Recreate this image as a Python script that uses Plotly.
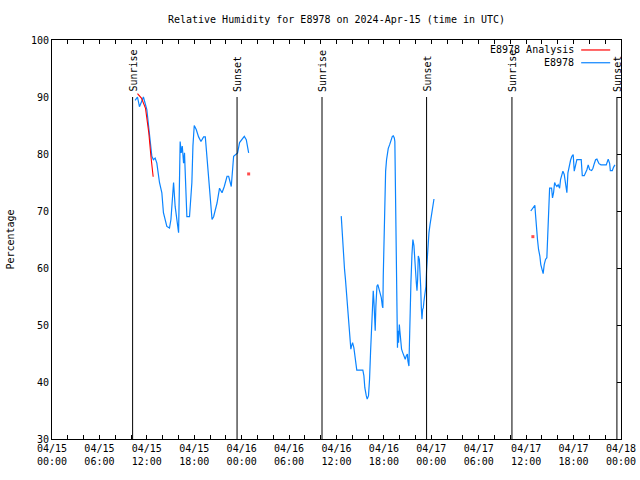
import plotly.graph_objects as go

# ---------------- data ----------------
c1_time = ["2024-04-15 10:31", "2024-04-15 10:49", "2024-04-15 11:04", "2024-04-15 11:34", "2024-04-15 12:00",
           "2024-04-15 12:12", "2024-04-15 12:25", "2024-04-15 12:38", "2024-04-15 12:50", "2024-04-15 13:03",
           "2024-04-15 13:16", "2024-04-15 13:36", "2024-04-15 13:54", "2024-04-15 14:06", "2024-04-15 14:32",
           "2024-04-15 14:52", "2024-04-15 15:03", "2024-04-15 15:15", "2024-04-15 15:23", "2024-04-15 15:35",
           "2024-04-15 15:48", "2024-04-15 16:01", "2024-04-15 16:13", "2024-04-15 16:21", "2024-04-15 16:29",
           "2024-04-15 16:39", "2024-04-15 16:46", "2024-04-15 17:04", "2024-04-15 17:24", "2024-04-15 17:42",
           "2024-04-15 17:50", "2024-04-15 18:00", "2024-04-15 18:15", "2024-04-15 18:33", "2024-04-15 18:51",
           "2024-04-15 19:11", "2024-04-15 19:24", "2024-04-15 19:41", "2024-04-15 19:56", "2024-04-15 20:15",
           "2024-04-15 20:27", "2024-04-15 20:53", "2024-04-15 21:12", "2024-04-15 21:31", "2024-04-15 21:48",
           "2024-04-15 22:09", "2024-04-15 22:21", "2024-04-15 22:41", "2024-04-15 22:59", "2024-04-15 23:12",
           "2024-04-15 23:29", "2024-04-15 23:44", "2024-04-16 00:03", "2024-04-16 00:20", "2024-04-16 00:35",
           "2024-04-16 00:53"]
c1_rh = [89.4, 90.0, 88.3, 90.0, 87.8, 85.5, 82.5, 79.6, 79.0, 79.3,
         78.4, 75.0, 73.2, 69.7, 67.3, 67.0, 68.5, 73.5, 75.0, 70.8,
         68.2, 66.2, 82.2, 80.2, 81.4, 78.4, 80.2, 69.0, 69.0, 75.0,
         81.4, 85.0, 84.3, 83.0, 82.2, 83.0, 83.0, 77.8, 72.6, 68.5,
         69.0, 71.4, 74.0, 73.2, 74.3, 76.1, 76.1, 74.3, 79.6, 79.9,
         80.2, 82.0, 82.7, 83.1, 82.5, 80.2]

c2_time = ["2024-04-16 12:36", "2024-04-16 12:40", "2024-04-16 12:48", "2024-04-16 12:56", "2024-04-16 13:01",
           "2024-04-16 13:08", "2024-04-16 13:16", "2024-04-16 13:26", "2024-04-16 13:34", "2024-04-16 13:41",
           "2024-04-16 13:49", "2024-04-16 13:54", "2024-04-16 14:02", "2024-04-16 14:12", "2024-04-16 14:19",
           "2024-04-16 14:27", "2024-04-16 14:34", "2024-04-16 14:57", "2024-04-16 15:20", "2024-04-16 15:28",
           "2024-04-16 15:35", "2024-04-16 15:46", "2024-04-16 15:53", "2024-04-16 16:03", "2024-04-16 16:11",
           "2024-04-16 16:19", "2024-04-16 16:26", "2024-04-16 16:34", "2024-04-16 16:39", "2024-04-16 16:44",
           "2024-04-16 16:49", "2024-04-16 16:54", "2024-04-16 16:59", "2024-04-16 17:07", "2024-04-16 17:14",
           "2024-04-16 17:22", "2024-04-16 17:29", "2024-04-16 17:40", "2024-04-16 17:48", "2024-04-16 17:52",
           "2024-04-16 17:55", "2024-04-16 18:03", "2024-04-16 18:07", "2024-04-16 18:13", "2024-04-16 18:20",
           "2024-04-16 18:26", "2024-04-16 18:33", "2024-04-16 18:43", "2024-04-16 18:51", "2024-04-16 19:04",
           "2024-04-16 19:11", "2024-04-16 19:19", "2024-04-16 19:23", "2024-04-16 19:29", "2024-04-16 19:38",
           "2024-04-16 19:43", "2024-04-16 19:46", "2024-04-16 19:51", "2024-04-16 19:57", "2024-04-16 20:01",
           "2024-04-16 20:07", "2024-04-16 20:14", "2024-04-16 20:22", "2024-04-16 20:32", "2024-04-16 20:42",
           "2024-04-16 20:50", "2024-04-16 20:58", "2024-04-16 21:02", "2024-04-16 21:10", "2024-04-16 21:13",
           "2024-04-16 21:17", "2024-04-16 21:25", "2024-04-16 21:33", "2024-04-16 21:40", "2024-04-16 21:48",
           "2024-04-16 21:53", "2024-04-16 22:01", "2024-04-16 22:06", "2024-04-16 22:11", "2024-04-16 22:16",
           "2024-04-16 22:21", "2024-04-16 22:29", "2024-04-16 22:34", "2024-04-16 22:39", "2024-04-16 22:44",
           "2024-04-16 22:49", "2024-04-16 22:54", "2024-04-16 22:59", "2024-04-16 23:04", "2024-04-16 23:12",
           "2024-04-16 23:19", "2024-04-16 23:24", "2024-04-16 23:30", "2024-04-16 23:34", "2024-04-16 23:42",
           "2024-04-16 23:50", "2024-04-16 23:57", "2024-04-17 00:05", "2024-04-17 00:12", "2024-04-17 00:20"]
c2_rh = [69.1, 67.3, 63.9, 61.5, 59.75, 58.0, 55.4, 52.5, 49.5, 47.0,
         45.75, 46.3, 46.9, 46.0, 44.6, 43.4, 42.1, 42.1, 42.1, 41.1,
         39.0, 37.6, 37.0, 37.6, 40.5, 45.5, 49.8, 53.9, 56.0, 54.2,
         51.0, 49.0, 53.3, 56.8, 57.1, 56.25, 55.7, 54.8, 53.3, 53.0,
         58.6, 70.25, 75.5, 77.0, 79.0, 80.2, 81.0, 81.6, 82.2, 83.1,
         83.2, 82.8, 82.2, 73.2, 55.1, 46.0, 49.0, 46.9, 50.1, 49.0,
         46.9, 45.75, 45.2, 44.6, 44.0, 44.6, 44.9, 43.7, 42.8, 46.0,
         51.9, 57.4, 62.4, 65.0, 63.9, 61.2, 59.2, 57.4, 56.0, 58.0,
         62.1, 61.5, 59.75, 56.8, 53.0, 51.0, 52.75, 53.0, 54.2, 55.4,
         56.8, 59.75, 62.1, 63.9, 66.2, 67.6, 68.8, 70.25, 71.4, 72.1]

c3_time = ["2024-04-17 12:35", "2024-04-17 12:53", "2024-04-17 13:06", "2024-04-17 13:11", "2024-04-17 13:19",
           "2024-04-17 13:26", "2024-04-17 13:34", "2024-04-17 13:44", "2024-04-17 13:51", "2024-04-17 14:01",
           "2024-04-17 14:09", "2024-04-17 14:17", "2024-04-17 14:27", "2024-04-17 14:37", "2024-04-17 14:42",
           "2024-04-17 14:50", "2024-04-17 14:58", "2024-04-17 15:13", "2024-04-17 15:20", "2024-04-17 15:28",
           "2024-04-17 15:36", "2024-04-17 15:43", "2024-04-17 15:53", "2024-04-17 16:03", "2024-04-17 16:14",
           "2024-04-17 16:21", "2024-04-17 16:29", "2024-04-17 16:39", "2024-04-17 16:49", "2024-04-17 16:59",
           "2024-04-17 17:09", "2024-04-17 17:17", "2024-04-17 17:27", "2024-04-17 17:37", "2024-04-17 17:47",
           "2024-04-17 17:57", "2024-04-17 18:05", "2024-04-17 18:15", "2024-04-17 18:25", "2024-04-17 18:58",
           "2024-04-17 19:06", "2024-04-17 19:21", "2024-04-17 19:31", "2024-04-17 19:41", "2024-04-17 19:51",
           "2024-04-17 20:02", "2024-04-17 20:17", "2024-04-17 20:27", "2024-04-17 20:37", "2024-04-17 20:47",
           "2024-04-17 20:57", "2024-04-17 21:13", "2024-04-17 21:28", "2024-04-17 22:08", "2024-04-17 22:23",
           "2024-04-17 22:34", "2024-04-17 22:39", "2024-04-17 22:54", "2024-04-17 23:04", "2024-04-17 23:14"]
c3_rh = [70.0, 70.5, 71.0, 69.4, 66.5, 65.0, 63.25, 62.1, 60.6, 59.75,
         59.0, 60.6, 61.5, 61.8, 65.0, 70.8, 74.0, 74.0, 72.3, 73.2,
         75.0, 74.6, 74.3, 74.6, 74.0, 75.5, 76.4, 77.0, 76.4, 75.0,
         73.2, 76.7, 78.1, 78.9, 79.6, 79.9, 77.0, 78.1, 79.0, 79.0,
         76.2, 76.2, 76.7, 77.25, 78.1, 77.25, 77.1, 77.5, 78.3, 79.0,
         79.1, 78.3, 78.1, 78.1, 79.1, 78.3, 77.1, 77.1, 77.7, 78.1]

analysis_time = ["2024-04-15 10:49", "2024-04-15 11:19", "2024-04-15 11:50", "2024-04-15 12:15",
                 "2024-04-15 12:31", "2024-04-15 12:48", None, "2024-04-16 00:53", None, "2024-04-17 12:51"]
analysis_rh = [90.6, 89.8, 88.0, 83.7, 79.6, 76.0, None, 76.5, None, 65.5]

sun_time = ["2024-04-15 10:12", "2024-04-15 23:25", "2024-04-16 10:10",
            "2024-04-16 23:24", "2024-04-17 10:12", "2024-04-17 23:29"]
sun_label = ["Sunrise", "Sunset", "Sunrise", "Sunset", "Sunrise", "Sunset"]

x_ticks = ["2024-04-15 00:00", "2024-04-15 06:00", "2024-04-15 12:00", "2024-04-15 18:00",
           "2024-04-16 00:00", "2024-04-16 06:00", "2024-04-16 12:00", "2024-04-16 18:00",
           "2024-04-17 00:00", "2024-04-17 06:00", "2024-04-17 12:00", "2024-04-17 18:00",
           "2024-04-18 00:00"]
x_tick_text = ["04/15<br>00:00", "04/15<br>06:00", "04/15<br>12:00", "04/15<br>18:00",
               "04/16<br>00:00", "04/16<br>06:00", "04/16<br>12:00", "04/16<br>18:00",
               "04/17<br>00:00", "04/17<br>06:00", "04/17<br>12:00", "04/17<br>18:00",
               "04/18<br>00:00"]
y_ticks = [30, 40, 50, 60, 70, 80, 90, 100]

FONT = "DejaVu Sans Mono"
BLUE = "#0a84ff"
RED = "#ff0000"

blue_time = c1_time + [None] + c2_time + [None] + c3_time
blue_rh = c1_rh + [None] + c2_rh + [None] + c3_rh

# points with no neighbour are drawn as dots (like gnuplot does for isolated points)
def isolated(vals, i):
    prev_ok = i > 0 and vals[i - 1] is not None
    next_ok = i < len(vals) - 1 and vals[i + 1] is not None
    return vals[i] is not None and not prev_ok and not next_ok

analysis_marker_size = [3 if isolated(analysis_rh, i) else 0 for i in range(len(analysis_rh))]

fig = go.Figure()
fig.add_trace(go.Scatter(x=blue_time, y=blue_rh, mode="lines", name="E8978",
                         line=dict(color=BLUE, width=1.2), connectgaps=False, showlegend=False))
fig.add_trace(go.Scatter(x=analysis_time, y=analysis_rh, mode="lines+markers", name="E8978 Analysis",
                         line=dict(color=RED, width=1.1),
                         marker=dict(size=analysis_marker_size, symbol="square", color=RED, line=dict(width=0)),
                         connectgaps=False, showlegend=False))
# dummy trace on the right axis so it renders ticks
fig.add_trace(go.Scatter(x=[x_ticks[0]], y=[None], yaxis="y2", showlegend=False, hoverinfo="skip"))

for t, lab in zip(sun_time, sun_label):
    fig.add_shape(type="line", xref="x", yref="y", x0=t, x1=t, y0=30, y1=90,
                  line=dict(color="black", width=1))
    fig.add_annotation(x=t, y=90, xref="x", yref="y", text=lab, textangle=-90,
                       showarrow=False, xanchor="center", yanchor="bottom", yshift=3,
                       font=dict(family=FONT, size=10, color="black"))

# gnuplot-style key
key_rows = [("E8978 Analysis", RED, 0.975), ("E8978", BLUE, 0.943)]
for txt, col, yy in key_rows:
    fig.add_annotation(x=0.921, y=yy, xref="paper", yref="paper", text=txt, showarrow=False,
                       xanchor="right", yanchor="middle", font=dict(family=FONT, size=10, color="black"))
    fig.add_shape(type="line", xref="paper", yref="paper", x0=0.930, x1=0.981, y0=yy, y1=yy,
                  line=dict(color=col, width=1.2))

fig.update_layout(
    width=640, height=480,
    margin=dict(l=52, r=19, t=40, b=41, autoexpand=False),
    paper_bgcolor="white", plot_bgcolor="white",
    title=dict(text="Relative Humidity for E8978 on 2024-Apr-15 (time in UTC)", x=0.5, xanchor="center",
               xref="paper", y=0.96, yanchor="middle", font=dict(family=FONT, size=10, color="black")),
    font=dict(family=FONT, size=10, color="black"),
    xaxis=dict(type="date", range=["2024-04-15 00:00", "2024-04-18 00:00"],
               tickmode="array", tickvals=x_ticks, ticktext=x_tick_text,
               ticks="inside", ticklen=4, tickcolor="black", tickwidth=1,
               minor=dict(dtick=2 * 3600 * 1000, tick0="2024-04-15 00:00", ticks="inside",
                          ticklen=4, tickcolor="black", showgrid=False),
               showgrid=False, zeroline=False, showline=True, linecolor="black", linewidth=1,
               mirror="ticks", tickfont=dict(family=FONT, size=10), automargin=False),
    yaxis=dict(range=[30, 100], tickmode="array", tickvals=y_ticks, ticks="", showgrid=False,
               zeroline=False, showline=True, linecolor="black", linewidth=1, mirror=True,
               tickfont=dict(family=FONT, size=10), automargin=False,
               title=dict(text="Percentage", font=dict(family=FONT, size=10), standoff=14)),
    yaxis2=dict(range=[30, 100], overlaying="y", side="right", tickmode="array", tickvals=y_ticks,
                ticks="inside", ticklen=4, tickcolor="black", showticklabels=False, showgrid=False,
                zeroline=False, showline=False, automargin=False),
)

fig.write_html("out.html", config={"displayModeBar": False},
               post_script="document.body.style.margin='0';document.body.style.padding='0';")
